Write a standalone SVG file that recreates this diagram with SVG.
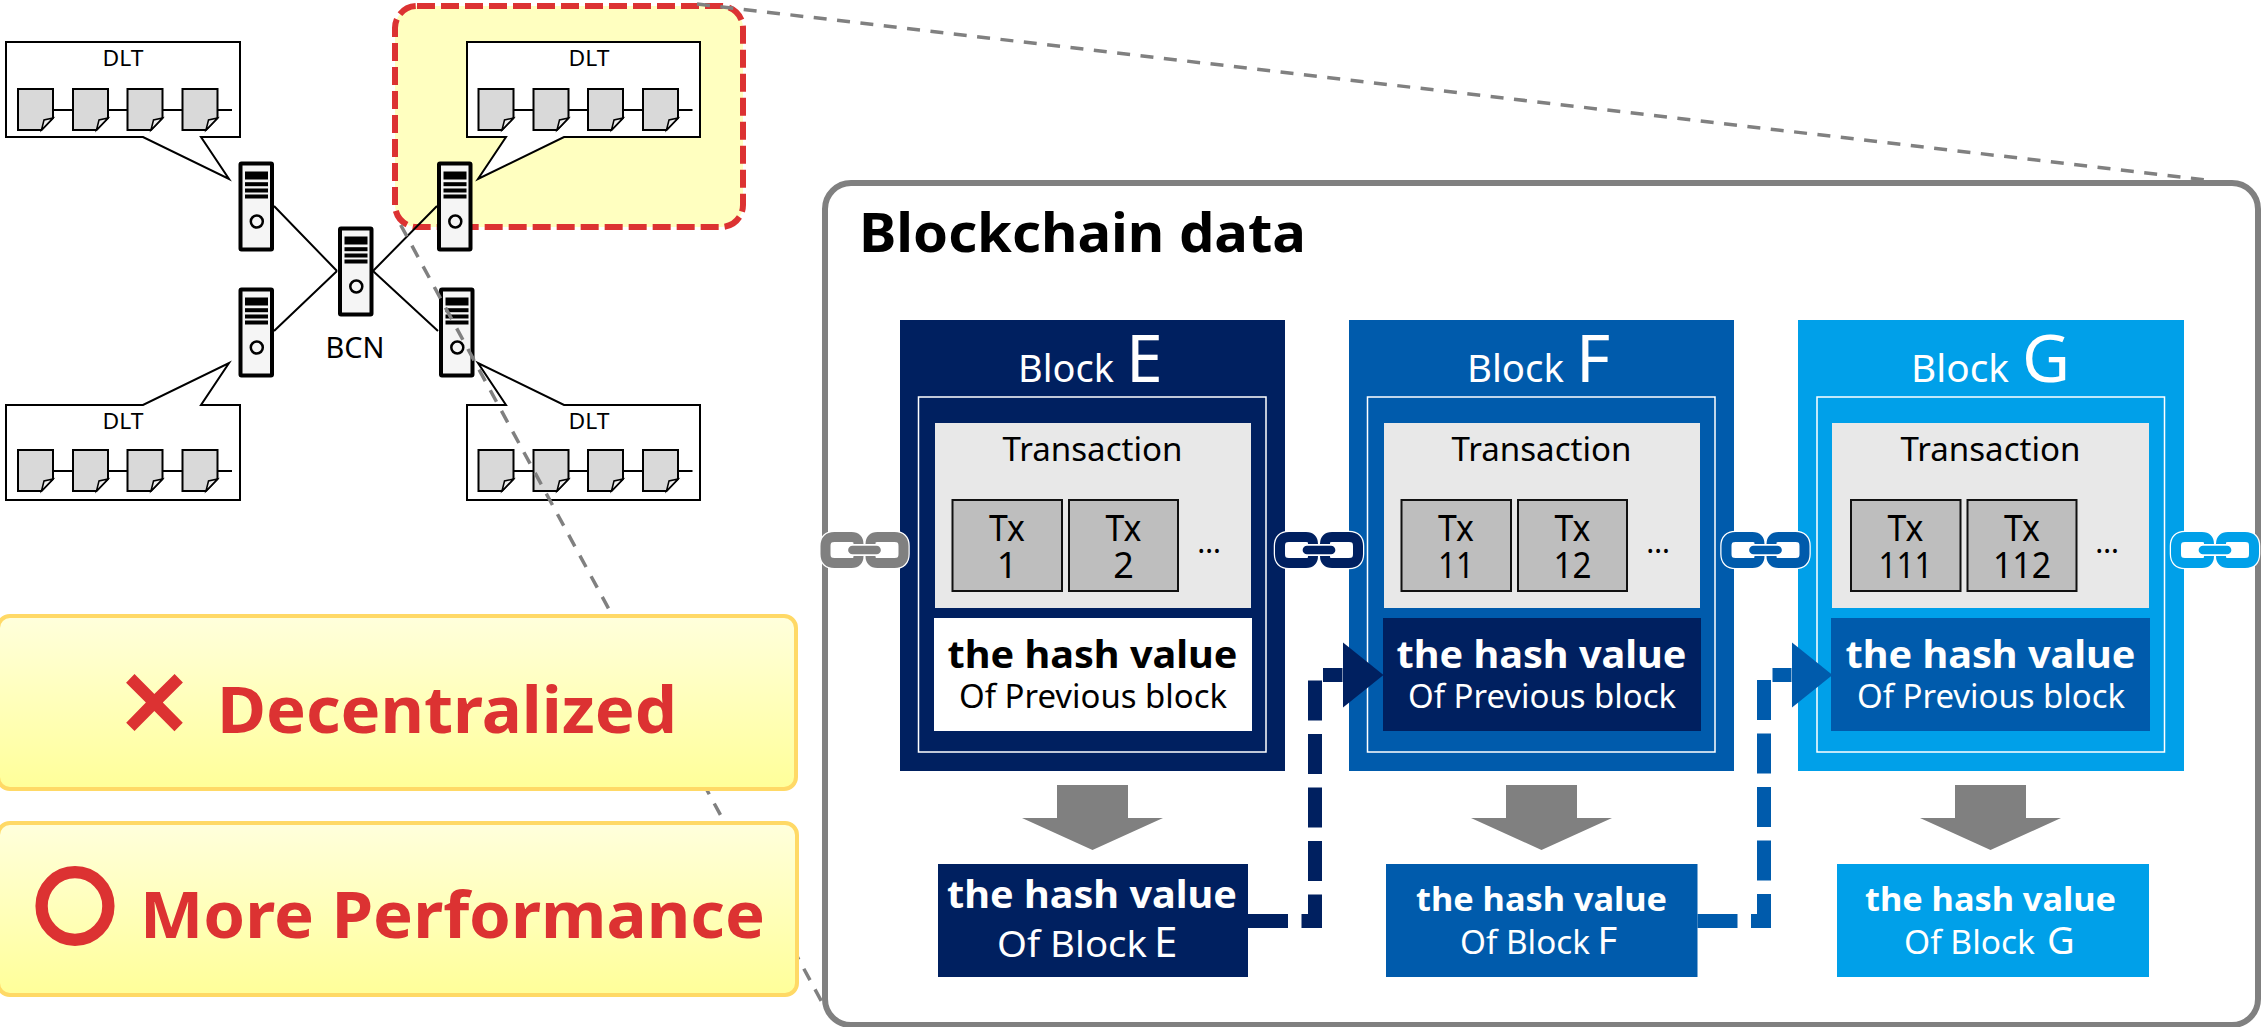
<svg xmlns="http://www.w3.org/2000/svg" width="2262" height="1027" viewBox="0 0 2262 1027">
<style>
text{font-family:"Noto Sans","DejaVu Sans",sans-serif;text-anchor:middle}
.b{font-weight:700}
.s{text-anchor:start}
.w{fill:#fff}
.k{fill:#000}
.r{fill:#dc3232;font-weight:700}
.dlt{fill:#fff;stroke:#000;stroke-width:2}
.tx{fill:#bebebe;stroke:#111;stroke-width:2}
.tr{fill:#e8e8e8}
.in{fill:none;stroke:#fff;stroke-width:1.5}
.call{stroke:#ffd966;stroke-width:4;fill:url(#yg)}
.dash{fill:none;stroke:#808080;stroke-width:3.500;stroke-dasharray:13 10.500}
.link{fill:none;stroke-width:14;stroke-dasharray:40 13.500}
.wire{fill:none;stroke:#000;stroke-width:2}
</style>
<defs>
<linearGradient id="yg" x1="0" y1="0" x2="0" y2="1"><stop offset="0" stop-color="#ffffdc"/><stop offset="1" stop-color="#ffff99"/></linearGradient>
<g id="doc"><path d="M0,0H35V29L23.500,41H0Z" fill="#d9d9d9" stroke="#000" stroke-width="2"/><path d="M23.500,41L26,31L35,29Z" fill="#efefef" stroke="#000" stroke-width="1.500"/></g>
<g id="docs"><path d="M35,21H214" stroke="#000" stroke-width="2"/><use href="#doc" x="0"/><use href="#doc" x="55"/><use href="#doc" x="109.500"/><use href="#doc" x="164.500"/></g>
<g id="srv"><rect x="2" y="2" width="31.500" height="86" rx="1" fill="#f5f5f5" stroke="#000" stroke-width="4"/><rect x="6.500" y="10" width="23" height="8"/><rect x="6.500" y="20.700" width="23" height="4"/><rect x="6.500" y="27" width="23" height="4"/><rect x="6.500" y="33" width="23" height="4"/><circle cx="18.300" cy="60" r="6" fill="none" stroke="#000" stroke-width="2.500"/></g>
<g id="chain"><g fill="none" stroke="#fff" stroke-linecap="round"><path stroke-width="12.500" d="M38,12Q38,5 31,5H14Q5,5 5,14V22Q5,31 14,31H31Q38,31 38,24M50,12Q50,5 57,5H74Q83,5 83,14V22Q83,31 74,31H57Q50,31 50,24"/></g><rect x="9" y="10" width="70" height="16" fill="#fff"/><g fill="none" stroke="currentColor" stroke-linecap="butt"><path stroke-width="10" d="M38,12Q38,5 31,5H14Q5,5 5,14V22Q5,31 14,31H31Q38,31 38,24M50,12Q50,5 57,5H74Q83,5 83,14V22Q83,31 74,31H57Q50,31 50,24"/></g><path d="M32,18H56" fill="none" stroke="#fff" stroke-width="11" stroke-linecap="round"/><path d="M32,18H56" fill="none" stroke="currentColor" stroke-width="8.700" stroke-linecap="round"/></g>
<path id="down" d="M35,0H106V33H141L70.500,65L0,33H35Z" fill="#808080"/>
<marker id="h1" markerUnits="userSpaceOnUse" markerWidth="41" markerHeight="66" refX="0" refY="33" orient="auto"><path d="M0,0L41,33L0,66Z" fill="#002060"/></marker>
<marker id="h2" markerUnits="userSpaceOnUse" markerWidth="41" markerHeight="66" refX="0" refY="33" orient="auto"><path d="M0,0L41,33L0,66Z" fill="#005bac"/></marker>
</defs>
<rect width="2262" height="1027" fill="#fff"/>
<g id="highlight"><rect x="395" y="6" width="348" height="221" rx="22" fill="#ffffc0" stroke="#dc3232" stroke-width="6" stroke-dasharray="18 6"/></g>
<g id="wires">
<path class="wire" d="M274,206L337,271M437,206L373,271M274,331L337,271M438,331L373,271"/>
</g>
<g id="dlt-tl"><path class="dlt" d="M6,42H240V137H201L229,179L143,137H6Z"/><text x="123" y="66" font-size="22" textLength="41" lengthAdjust="spacingAndGlyphs" class="k">DLT</text><use href="#docs" x="18" y="89"/></g>
<g id="dlt-tr"><path class="dlt" d="M467,42H700V137H564L478,179L506,137H467Z"/><text x="589" y="66" font-size="22" textLength="41" lengthAdjust="spacingAndGlyphs" class="k">DLT</text><use href="#docs" x="478.500" y="89"/></g>
<g id="dlt-bl"><path class="dlt" d="M6,405H143L229,363L201,405H240V500H6Z"/><text x="123" y="429" font-size="22" textLength="41" lengthAdjust="spacingAndGlyphs" class="k">DLT</text><use href="#docs" x="18" y="450"/></g>
<g id="dlt-br"><path class="dlt" d="M467,405H506L478,363L564,405H700V500H467Z"/><text x="589" y="429" font-size="22" textLength="41" lengthAdjust="spacingAndGlyphs" class="k">DLT</text><use href="#docs" x="478.500" y="450"/></g>
<g id="server-tl"><use href="#srv" x="238.500" y="161.500"/></g>
<g id="server-tr"><use href="#srv" x="437" y="161.500"/></g>
<g id="server-bl"><use href="#srv" x="238.500" y="287.500"/></g>
<g id="server-br"><use href="#srv" x="439" y="287.500"/></g>
<g id="server-bcn"><use href="#srv" x="338" y="226.500"/><text x="355" y="358" font-size="29.500" textLength="59" lengthAdjust="spacingAndGlyphs" class="k">BCN</text></g>
<g id="zoom-lines">
<path class="dash" d="M400.700,225L824,1006"/>
<path class="dash" d="M697,4L2207,180"/>
</g>
<g id="callout-1"><rect class="call" x="-2" y="616" width="798" height="173" rx="12"/><text x="154.500" y="748" font-size="128" class="r" style="font-weight:600">×</text><text x="447" y="733" font-size="65" textLength="460" lengthAdjust="spacingAndGlyphs" class="r">Decentralized</text></g>
<g id="callout-2"><rect class="call" x="-2" y="823" width="799" height="172" rx="12"/><text x="75" y="938" font-size="84" class="r" stroke="#dc3232" stroke-width="2" style="font-family:'Noto Sans CJK JP',sans-serif">〇</text><text x="452.500" y="938" font-size="65" textLength="625" lengthAdjust="spacingAndGlyphs" class="r">More Performance</text></g>
<g id="blockchain-data"><rect x="825" y="183" width="1433" height="842" rx="26" fill="#fff" stroke="#808080" stroke-width="6"/><text class="b s k" x="859" y="252" font-size="54" textLength="447" lengthAdjust="spacingAndGlyphs">Blockchain data</text></g>
<g id="block-e">
<rect x="900" y="320" width="385" height="451" fill="#002060"/><rect class="in" x="918.500" y="397" width="347.500" height="355"/>
<text class="w s" y="382"><tspan x="1018" font-size="38.500" textLength="96" lengthAdjust="spacingAndGlyphs">Block</tspan><tspan x="1126" font-size="66">E</tspan></text>
<rect class="tr" x="935" y="423" width="316" height="185"/><text x="1092.500" y="461" font-size="32" textLength="180" lengthAdjust="spacingAndGlyphs" class="k">Transaction</text>
<rect class="tx" x="952.500" y="500" width="109.500" height="91"/><text font-size="36" class="k"><tspan x="1007" y="541" textLength="36" lengthAdjust="spacingAndGlyphs">Tx</tspan><tspan x="1007" y="578">1</tspan></text>
<rect class="tx" x="1069" y="500" width="109" height="91"/><text font-size="36" class="k"><tspan x="1123.500" y="541" textLength="36" lengthAdjust="spacingAndGlyphs">Tx</tspan><tspan x="1123.500" y="578">2</tspan></text>
<text x="1209" y="553" font-size="30" class="k">…</text>
<rect x="934" y="618" width="318" height="113" fill="#fff"/><text font-size="37" class="b k" x="1092.500" y="668" textLength="290" lengthAdjust="spacingAndGlyphs">the hash value</text><text x="1093" y="708" font-size="32" textLength="268" lengthAdjust="spacingAndGlyphs" class="k">Of Previous block</text>
<use href="#down" x="1022" y="785"/>
<rect x="938" y="864" width="310" height="113" fill="#002060"/><text x="1092" y="908" font-size="37" textLength="290" lengthAdjust="spacingAndGlyphs" class="b w">the hash value</text>
<text class="w s" y="957"><tspan x="997" font-size="36" textLength="150" lengthAdjust="spacingAndGlyphs">Of Block</tspan><tspan x="1154" font-size="42">E</tspan></text>
</g>
<g id="block-f">
<rect x="1349" y="320" width="385" height="451" fill="#005bac"/><rect class="in" x="1367.500" y="397" width="347.500" height="355"/>
<text class="w s" y="382"><tspan x="1467" font-size="38.500" textLength="97" lengthAdjust="spacingAndGlyphs">Block</tspan><tspan x="1576" font-size="66">F</tspan></text>
<rect class="tr" x="1384" y="423" width="316" height="185"/><text x="1541.500" y="461" font-size="32" textLength="180" lengthAdjust="spacingAndGlyphs" class="k">Transaction</text>
<rect class="tx" x="1401.500" y="500" width="109.500" height="91"/><text font-size="36" class="k"><tspan x="1456" y="541" textLength="36" lengthAdjust="spacingAndGlyphs">Tx</tspan><tspan x="1456" y="578" textLength="36" lengthAdjust="spacingAndGlyphs">11</tspan></text>
<rect class="tx" x="1518" y="500" width="109" height="91"/><text font-size="36" class="k"><tspan x="1572.500" y="541" textLength="36" lengthAdjust="spacingAndGlyphs">Tx</tspan><tspan x="1572.500" y="578" textLength="38" lengthAdjust="spacingAndGlyphs">12</tspan></text>
<text x="1658" y="553" font-size="30" class="k">…</text>
<rect x="1383" y="618" width="318" height="113" fill="#002060"/><text x="1541.500" y="668" font-size="37" textLength="290" lengthAdjust="spacingAndGlyphs" class="b w">the hash value</text><text x="1542" y="708" font-size="32" textLength="268" lengthAdjust="spacingAndGlyphs" class="w">Of Previous block</text>
<use href="#down" x="1471" y="785"/>
<rect x="1386" y="864" width="311.500" height="113" fill="#005bac"/><text x="1541.500" y="911" font-size="32" textLength="251" lengthAdjust="spacingAndGlyphs" class="b w">the hash value</text>
<text class="w s" y="954"><tspan x="1460" font-size="33" textLength="130" lengthAdjust="spacingAndGlyphs">Of Block</tspan><tspan x="1597.500" font-size="38">F</tspan></text>
</g>
<g id="block-g">
<rect x="1798" y="320" width="386" height="451" fill="#00a0e9"/><rect class="in" x="1817" y="397" width="347.500" height="355"/>
<text class="w s" y="382"><tspan x="1911" font-size="38.500" textLength="98" lengthAdjust="spacingAndGlyphs">Block</tspan><tspan x="2022" font-size="66">G</tspan></text>
<rect class="tr" x="1832" y="423" width="317" height="185"/><text x="1990.500" y="461" font-size="32" textLength="180" lengthAdjust="spacingAndGlyphs" class="k">Transaction</text>
<rect class="tx" x="1851" y="500" width="109.500" height="91"/><text font-size="36" class="k"><tspan x="1905.500" y="541" textLength="36" lengthAdjust="spacingAndGlyphs">Tx</tspan><tspan x="1905.500" y="578" textLength="54" lengthAdjust="spacingAndGlyphs">111</tspan></text>
<rect class="tx" x="1967.500" y="500" width="109" height="91"/><text font-size="36" class="k"><tspan x="2022" y="541" textLength="36" lengthAdjust="spacingAndGlyphs">Tx</tspan><tspan x="2022" y="578" textLength="58" lengthAdjust="spacingAndGlyphs">112</tspan></text>
<text x="2107" y="553" font-size="30" class="k">…</text>
<rect x="1831" y="618" width="319" height="113" fill="#005bac"/><text x="1990.500" y="668" font-size="37" textLength="290" lengthAdjust="spacingAndGlyphs" class="b w">the hash value</text><text x="1991" y="708" font-size="32" textLength="268" lengthAdjust="spacingAndGlyphs" class="w">Of Previous block</text>
<use href="#down" x="1920" y="785"/>
<rect x="1837" y="864" width="312" height="113" fill="#00a0e9"/><text x="1990.500" y="911" font-size="32" textLength="251" lengthAdjust="spacingAndGlyphs" class="b w">the hash value</text>
<text class="w s" y="954"><tspan x="1904" font-size="33" textLength="131" lengthAdjust="spacingAndGlyphs">Of Block</tspan><tspan x="2047" font-size="38">G</tspan></text>
</g>
<g id="connectors">
<path class="link" stroke="#002060" marker-end="url(#h1)" d="M1248,921H1315V675H1342.500"/>
<path class="link" stroke="#005bac" marker-end="url(#h2)" d="M1697.500,921H1764V675H1791.500"/>
</g>
<g id="chains">
<use href="#chain" x="820.500" y="532" color="#808080"/>
<use href="#chain" x="1275" y="532" color="#002060"/>
<use href="#chain" x="1721.500" y="532" color="#005bac"/>
<use href="#chain" x="2171" y="532" color="#00a0e9"/>
</g>
</svg>
